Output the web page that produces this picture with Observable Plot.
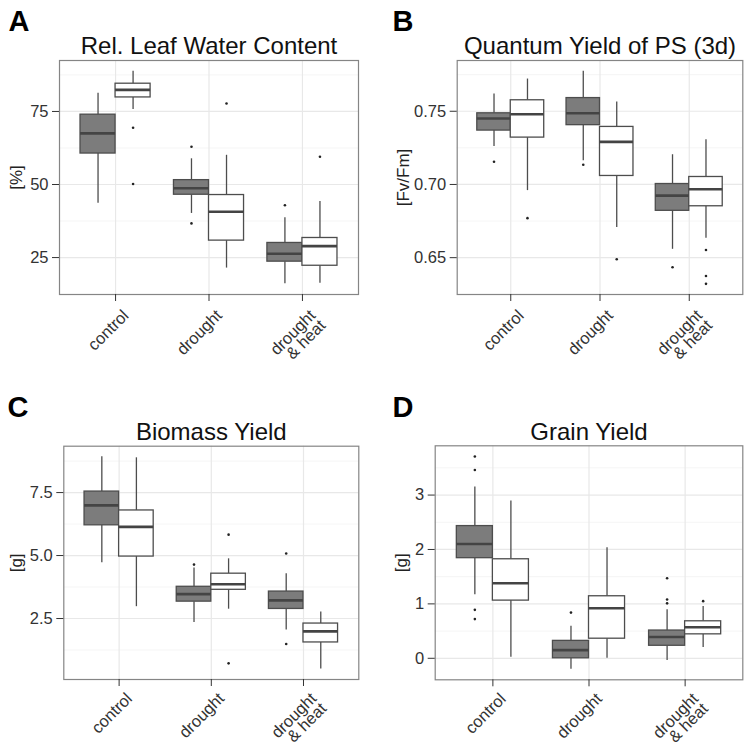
<!DOCTYPE html>
<html>
<head>
<meta charset="utf-8">
<script src="https://cdn.jsdelivr.net/npm/d3@7"></script>
<script src="https://cdn.jsdelivr.net/npm/@observablehq/plot@0.6"></script>
<style>
  html, body { margin: 0; padding: 0; background: #fff; }
  #chart { position: relative; width: 748px; height: 747px; background: #fff; overflow: hidden; }
</style>
</head>
<body>
<div id="chart"></div>
<script>
// ---------- shared categories ----------
const categories = ["control", "drought", "drought & heat"];
const categoryLabels = ["control", "drought", "drought\n& heat"];
const groups = ["dark", "light"];
const boxCategory = ["control", "control", "drought", "drought", "drought & heat", "drought & heat"];
const boxGroup = ["dark", "light", "dark", "light", "dark", "light"];

// ---------- Panel A: Rel. Leaf Water Content [%] ----------
const rlwcLower  = [43.6, 75.7, 40.1, 21.4, 16.0, 16.2];
const rlwcQ1     = [60.6, 79.8, 46.5, 30.8, 23.6, 22.2];
const rlwcMedian = [67.5, 82.4, 48.7, 40.7, 26.3, 28.9];
const rlwcQ3     = [73.9, 84.5, 51.5, 46.4, 30.0, 31.7];
const rlwcUpper  = [81.2, 88.8, 58.8, 60.0, 38.6, 44.2];
const rlwcOutCat   = ["control", "control", "drought", "drought", "drought", "drought & heat", "drought & heat"];
const rlwcOutGroup = ["light", "light", "dark", "dark", "light", "dark", "light"];
const rlwcOutVal   = [69.4, 50.2, 62.9, 36.7, 77.7, 42.9, 59.5];
const rlwcTicks = [25, 50, 75];
const rlwcMinor = [37.5, 62.5, 87.5];

// ---------- Panel B: Quantum Yield of PS (3d) [Fv/Fm] ----------
const qyLower  = [0.7260, 0.6958, 0.7162, 0.6706, 0.6557, 0.6632];
const qyQ1     = [0.7368, 0.7320, 0.7405, 0.7058, 0.6820, 0.6851];
const qyMedian = [0.7450, 0.7480, 0.7486, 0.7291, 0.6924, 0.6967];
const qyQ3     = [0.7486, 0.7575, 0.7590, 0.7393, 0.7003, 0.7051];
const qyUpper  = [0.7618, 0.7720, 0.7774, 0.7563, 0.7203, 0.7305];
const qyOutCat   = ["control", "control", "drought", "drought", "drought & heat", "drought & heat", "drought & heat", "drought & heat"];
const qyOutGroup = ["dark", "light", "dark", "light", "dark", "light", "light", "light"];
const qyOutVal   = [0.7155, 0.6770, 0.7135, 0.6489, 0.6434, 0.6552, 0.6375, 0.6321];
const qyTicks = [0.65, 0.70, 0.75];
const qyMinor = [0.675, 0.725, 0.775];

// ---------- Panel C: Biomass Yield [g] ----------
const bioLower  = [4.71, 2.97, 2.34, 2.87, 2.04, 0.50];
const bioQ1     = [6.20, 4.96, 3.17, 3.64, 2.88, 1.55];
const bioMedian = [6.99, 6.14, 3.47, 3.86, 3.22, 1.99];
const bioQ3     = [7.54, 6.79, 3.76, 4.28, 3.57, 2.30];
const bioUpper  = [8.92, 8.88, 4.51, 4.87, 4.28, 2.76];
const bioOutCat   = ["drought", "drought", "drought", "drought & heat", "drought & heat"];
const bioOutGroup = ["dark", "light", "light", "dark", "dark"];
const bioOutVal   = [4.64, 5.83, 0.72, 5.08, 1.49];
const bioTicks = [2.5, 5.0, 7.5];
const bioMinor = [1.25, 3.75, 6.25, 8.75];

// ---------- Panel D: Grain Yield [g] ----------
const grainLower  = [1.17, 0.02, -0.20, 0.00, -0.04, 0.20];
const grainQ1     = [1.84, 1.06, 0.00, 0.36, 0.23, 0.44];
const grainMedian = [2.10, 1.38, 0.15, 0.92, 0.39, 0.57];
const grainQ3     = [2.43, 1.82, 0.32, 1.14, 0.51, 0.68];
const grainUpper  = [3.15, 2.89, 0.59, 2.03, 0.89, 0.95];
const grainOutCat   = ["control", "control", "control", "control", "drought", "drought & heat", "drought & heat", "drought & heat", "drought & heat"];
const grainOutGroup = ["dark", "dark", "dark", "dark", "dark", "dark", "dark", "dark", "light"];
const grainOutVal   = [3.71, 3.46, 0.89, 0.72, 0.84, 1.47, 1.08, 1.01, 1.05];
const grainTicks = [0, 1, 2, 3];
const grainMinor = [0.5, 1.5, 2.5, 3.5];

// ---------- helpers ----------
const FONT = "'Liberation Sans', Arial, Helvetica, sans-serif";
const DODGE = 0.375; // each box takes half of the 0.75 dodge width
const center = (cat, g) => categories.indexOf(cat) + 1 + (g === "dark" ? -DODGE / 2 : DODGE / 2);

function boxRows(lower, q1, med, q3, upper) {
  return boxCategory.map((c, i) => ({cat: c, group: boxGroup[i], lower: lower[i], q1: q1[i], median: med[i], q3: q3[i], upper: upper[i]}));
}
function outRows(cats, grps, vals) {
  return vals.map((v, i) => ({cat: cats[i], group: grps[i], value: v}));
}

function panel(cfg) {
  const rows = boxRows(...cfg.stats);
  const outs = outRows(...cfg.outliers);
  const all = rows.flatMap(d => [d.lower, d.upper]).concat(outs.map(d => d.value));
  const [lo, hi] = d3.extent(all);
  const pad = (hi - lo) * 0.05;
  const outline = "#4d4d4d";
  const plot = Plot.plot({
    width: cfg.width, height: cfg.height,
    marginTop: cfg.mt, marginRight: cfg.mr, marginBottom: cfg.mb, marginLeft: cfg.ml,
    style: {fontFamily: FONT, fontSize: "16.5px", color: "#333", background: "transparent", overflow: "visible"},
    x: {type: "linear", domain: [0.4, 3.6]},
    y: {domain: [lo - pad, hi + pad]},
    marks: [
      Plot.gridY(cfg.minor, {stroke: "#f3f3f3", strokeOpacity: 1, strokeWidth: 0.8}),
      Plot.gridY(cfg.ticks, {stroke: "#e8e8e8", strokeOpacity: 1, strokeWidth: 1.2}),
      Plot.gridX([1, 2, 3], {stroke: "#e8e8e8", strokeOpacity: 1, strokeWidth: 1.2}),
      Plot.ruleX(rows, {x: d => center(d.cat, d.group), y1: "q3", y2: "upper", stroke: outline, strokeWidth: 1.3}),
      Plot.ruleX(rows, {x: d => center(d.cat, d.group), y1: "lower", y2: "q1", stroke: outline, strokeWidth: 1.3}),
      Plot.rect(rows.filter(d => d.group === "dark"), {
        x1: d => center(d.cat, d.group) - DODGE / 2, x2: d => center(d.cat, d.group) + DODGE / 2,
        y1: "q1", y2: "q3", fill: "#7c7c7c", stroke: outline, strokeWidth: 1.3
      }),
      Plot.rect(rows.filter(d => d.group === "light"), {
        x1: d => center(d.cat, d.group) - DODGE / 2, x2: d => center(d.cat, d.group) + DODGE / 2,
        y1: "q1", y2: "q3", fill: "#ffffff", stroke: outline, strokeWidth: 1.3
      }),
      Plot.ruleY(rows, {
        y: "median", x1: d => center(d.cat, d.group) - DODGE / 2, x2: d => center(d.cat, d.group) + DODGE / 2,
        stroke: "#444", strokeWidth: 2.6
      }),
      Plot.dot(outs, {x: d => center(d.cat, d.group), y: "value", r: 1.3, fill: "#222", stroke: null}),
      Plot.frame({stroke: "#858585", strokeWidth: 1.2}),
      Plot.axisY(cfg.ticks, {tickSize: 7, tickPadding: 4, tickFormat: cfg.fmt, label: null, color: "#333"}),
      Plot.axisX([1, 2, 3], {tickSize: 7, fill: "none", label: null, stroke: "#333"}),
      Plot.text(categoryLabels, {
        x: (d, i) => i + 1, text: d => d, frameAnchor: "bottom", dx: 7, dy: cfg.labelDy,
        rotate: -45, textAnchor: "end", lineAnchor: "top", lineHeight: 0.85, fontSize: 16.5, fill: "#333"
      }),
      Plot.text([cfg.ylabel], {
        text: d => d, frameAnchor: "left", dx: cfg.ylabelDx, rotate: -90,
        textAnchor: "middle", lineAnchor: "middle", fontSize: 17, fill: "#222"
      }),
      Plot.text([cfg.title], {
        text: d => d, frameAnchor: "top", dy: cfg.titleDy, textAnchor: "middle",
        lineAnchor: "bottom", fontSize: 24, fill: "#111"
      }),
      Plot.text([cfg.letter], {
        text: d => d, frameAnchor: "top-left", dx: cfg.letterDx, dy: cfg.letterDy, textAnchor: "start",
        lineAnchor: "bottom", fontSize: 29, fontWeight: "bold", fill: "#000"
      })
    ]
  });
  plot.style.position = "absolute";
  plot.style.left = cfg.left + "px";
  plot.style.top = cfg.top + "px";
  return plot;
}

const chart = document.getElementById("chart");

chart.appendChild(panel({
  left: 0, top: 0, width: 374, height: 374, mt: 60, mr: 16, mb: 80, ml: 59,
  stats: [rlwcLower, rlwcQ1, rlwcMedian, rlwcQ3, rlwcUpper],
  outliers: [rlwcOutCat, rlwcOutGroup, rlwcOutVal],
  ticks: rlwcTicks, minor: rlwcMinor, fmt: d3.format("d"), labelDy: 15,
  ylabel: "[%]", ylabelDx: -43, title: "Rel. Leaf Water Content", titleDy: -7,
  letter: "A", letterDx: -51, letterDy: -30
}));

chart.appendChild(panel({
  left: 374, top: 0, width: 374, height: 374, mt: 60, mr: 5.7, mb: 80, ml: 82.7,
  stats: [qyLower, qyQ1, qyMedian, qyQ3, qyUpper],
  outliers: [qyOutCat, qyOutGroup, qyOutVal],
  ticks: qyTicks, minor: qyMinor, fmt: d3.format(".2f"), labelDy: 15,
  ylabel: "[Fv/Fm]", ylabelDx: -53.7, title: "Quantum Yield of PS (3d)", titleDy: -6.7,
  letter: "B", letterDx: -64.7, letterDy: -30
}));

chart.appendChild(panel({
  left: 0, top: 374, width: 374, height: 373, mt: 71.7, mr: 15.7, mb: 68, ml: 63.3,
  stats: [bioLower, bioQ1, bioMedian, bioQ3, bioUpper],
  outliers: [bioOutCat, bioOutGroup, bioOutVal],
  ticks: bioTicks, minor: bioMinor, fmt: d3.format(".1f"), labelDy: 13,
  ylabel: "[g]", ylabelDx: -46.8, title: "Biomass Yield", titleDy: -6.7,
  letter: "C", letterDx: -56.3, letterDy: -29.7
}));

chart.appendChild(panel({
  left: 374, top: 374, width: 374, height: 373, mt: 71.3, mr: 5.7, mb: 67.7, ml: 60.7,
  stats: [grainLower, grainQ1, grainMedian, grainQ3, grainUpper],
  outliers: [grainOutCat, grainOutGroup, grainOutVal],
  ticks: grainTicks, minor: grainMinor, fmt: d3.format("d"), labelDy: 13,
  ylabel: "[g]", ylabelDx: -33.2, title: "Grain Yield", titleDy: -6.3,
  letter: "D", letterDx: -42.7, letterDy: -29.3
}));
</script>
</body>
</html>
